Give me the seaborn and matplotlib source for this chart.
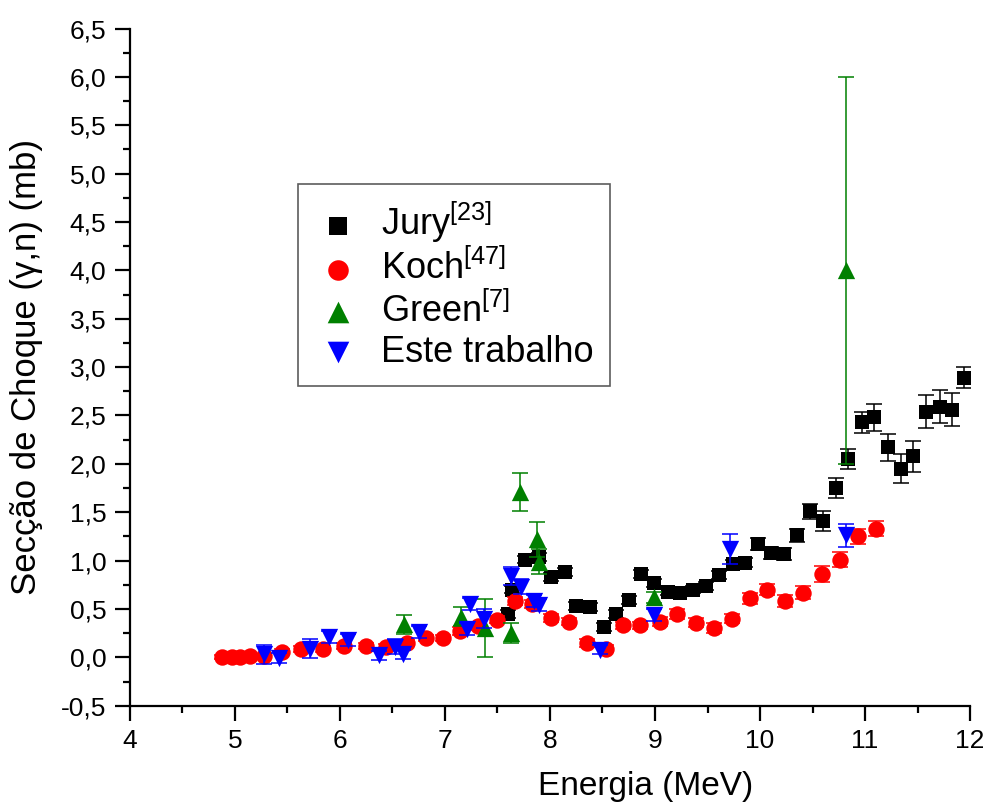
import matplotlib
matplotlib.use("Agg")
import matplotlib.pyplot as plt
from matplotlib.ticker import MultipleLocator, FuncFormatter
import seaborn as sns
import pandas as pd

# --- data: photoneutron cross section (gamma,n) vs photon energy ---
jury_e = [7.60, 7.64, 7.76, 7.90, 8.01, 8.14, 8.25, 8.38, 8.51, 8.63, 8.75, 8.87,
          8.99, 9.12, 9.24, 9.36, 9.49, 9.61, 9.74, 9.86, 9.98, 10.10, 10.23, 10.35,
          10.48, 10.60, 10.72, 10.84, 10.97, 11.09, 11.22, 11.34, 11.46, 11.58,
          11.71, 11.83, 11.94]
jury_s = [0.45, 0.70, 1.01, 1.04, 0.83, 0.88, 0.53, 0.52, 0.31, 0.45, 0.59, 0.86,
          0.77, 0.68, 0.67, 0.70, 0.74, 0.85, 0.96, 0.98, 1.17, 1.08, 1.07, 1.26,
          1.51, 1.41, 1.75, 2.05, 2.43, 2.48, 2.17, 1.95, 2.08, 2.54, 2.59, 2.56, 2.89]
jury_err = [0.04, 0.04, 0.04, 0.04, 0.04, 0.04, 0.04, 0.04, 0.04, 0.04, 0.04, 0.04,
            0.04, 0.04, 0.04, 0.04, 0.04, 0.04, 0.05, 0.05, 0.06, 0.06, 0.06, 0.07,
            0.08, 0.10, 0.10, 0.10, 0.11, 0.14, 0.14, 0.15, 0.16, 0.17, 0.17, 0.17, 0.11]

koch_e = [4.88, 4.97, 5.05, 5.14, 5.28, 5.45, 5.63, 5.84, 6.04, 6.25, 6.44, 6.64,
          6.82, 6.98, 7.14, 7.31, 7.50, 7.67, 7.83, 8.01, 8.18, 8.35, 8.53, 8.70,
          8.86, 9.05, 9.21, 9.39, 9.56, 9.73, 9.90, 10.07, 10.24, 10.41, 10.59,
          10.76, 10.93, 11.10]
koch_s = [0.00, 0.00, 0.00, 0.01, 0.01, 0.06, 0.09, 0.09, 0.12, 0.12, 0.11, 0.15,
          0.20, 0.20, 0.27, 0.32, 0.39, 0.58, 0.55, 0.41, 0.37, 0.15, 0.09, 0.33,
          0.33, 0.37, 0.45, 0.36, 0.30, 0.40, 0.61, 0.70, 0.58, 0.67, 0.86, 1.01,
          1.25, 1.33]
koch_err = [0.02, 0.02, 0.02, 0.02, 0.02, 0.03, 0.03, 0.03, 0.03, 0.03, 0.03, 0.03,
            0.03, 0.03, 0.04, 0.04, 0.04, 0.04, 0.04, 0.04, 0.04, 0.04, 0.04, 0.04,
            0.04, 0.05, 0.05, 0.05, 0.05, 0.05, 0.06, 0.06, 0.06, 0.07, 0.08, 0.08,
            0.08, 0.08]

green_e = [6.61, 7.15, 7.38, 7.63, 7.71, 7.88, 7.90, 8.99, 10.82]
green_s = [0.34, 0.42, 0.30, 0.25, 1.71, 1.22, 0.99, 0.62, 4.00]
green_err = [0.10, 0.10, 0.30, 0.10, 0.20, 0.18, 0.13, 0.06, 2.00]

este_e = [5.28, 5.42, 5.71, 5.90, 6.08, 6.37, 6.52, 6.60, 6.75, 7.21, 7.24, 7.37,
          7.63, 7.72, 7.85, 7.90, 8.48, 8.99, 9.71, 10.82]
este_s = [0.03, -0.01, 0.09, 0.21, 0.18, 0.02, 0.11, 0.03, 0.26, 0.29, 0.55, 0.40,
          0.84, 0.73, 0.58, 0.54, 0.08, 0.44, 1.12, 1.26]
este_err = [0.10, 0.05, 0.10, 0.06, 0.06, 0.05, 0.08, 0.05, 0.06, 0.06, 0.06, 0.10,
            0.09, 0.08, 0.06, 0.06, 0.05, 0.06, 0.16, 0.12]

series_names = ["Jury$^{[23]}$", "Koch$^{[47]}$", "Green$^{[7]}$", "Este trabalho"]
series_colors = ["#000000", "#ff0000", "#008000", "#0000ff"]
series_markers = ["s", "o", "^", "v"]
series_sizes = [115, 140, 155, 155]

sns.set_theme(style="ticks")
plt.rcParams["font.family"] = ["Liberation Sans", "DejaVu Sans"]
plt.rcParams["mathtext.fontset"] = "custom"
plt.rcParams["mathtext.rm"] = "Liberation Sans"
plt.rcParams["mathtext.default"] = "regular"
plt.rcParams["text.color"] = "black"
plt.rcParams["axes.labelcolor"] = "black"

frames = []
for name, e, s, err in zip(series_names,
                           [jury_e, koch_e, green_e, este_e],
                           [jury_s, koch_s, green_s, este_s],
                           [jury_err, koch_err, green_err, este_err]):
    frames.append(pd.DataFrame({"E": e, "sigma": s, "err": err, "serie": name}))
df = pd.concat(frames, ignore_index=True)

fig = plt.figure(figsize=(9.86, 8.08), dpi=100)
ax = fig.add_axes([0.1318, 0.1266, 0.852, 0.8381])

for i, (name, color, marker, size) in enumerate(
        zip(series_names, series_colors, series_markers, series_sizes)):
    sub = df[df["serie"] == name]
    ax.errorbar(sub["E"], sub["sigma"], yerr=sub["err"], fmt="none",
                ecolor=color, elinewidth=1.1, capsize=6, capthick=1.1,
                zorder=2 + 2 * i)
    sns.scatterplot(data=sub, x="E", y="sigma", color=color, marker=marker,
                    s=size, linewidth=0, ax=ax, label=name, zorder=3 + 2 * i)

ax.set_xlim(4, 12)
ax.set_ylim(-0.5, 6.5)
ax.xaxis.set_major_locator(MultipleLocator(1))
ax.xaxis.set_minor_locator(MultipleLocator(0.5))
ax.yaxis.set_major_locator(MultipleLocator(0.5))
ax.yaxis.set_minor_locator(MultipleLocator(0.25))
ax.yaxis.set_major_formatter(FuncFormatter(lambda v, p: f"{v:.1f}".replace(".", ",")))
ax.xaxis.set_major_formatter(FuncFormatter(lambda v, p: f"{v:.0f}"))

sns.despine(ax=ax)
for sp in ("left", "bottom"):
    ax.spines[sp].set_linewidth(1.6)
    ax.spines[sp].set_color("black")
ax.tick_params(which="major", direction="out", length=11, width=1.6,
               labelsize=19, colors="black", labelcolor="black", pad=6)
ax.tick_params(which="minor", direction="out", length=5, width=1.6, colors="black")

ax.set_xlabel("Energia (MeV)", fontsize=24)
ax.set_ylabel("Secção de Choque (γ,n) (mb)", fontsize=25)
ax.xaxis.set_label_coords(0.614, -0.097)
ax.yaxis.set_label_coords(-0.103, 0.5)

leg = ax.legend(loc="upper left", bbox_to_anchor=(0.2, 0.7706), fontsize=26,
                markerscale=1.25, frameon=True, fancybox=False, edgecolor="#333333",
                borderpad=0.45, labelspacing=0.14, handletextpad=0.55,
                handlelength=1.3, borderaxespad=0)
leg.get_frame().set_linewidth(1.2)

fig.savefig("out.png", dpi=100)
